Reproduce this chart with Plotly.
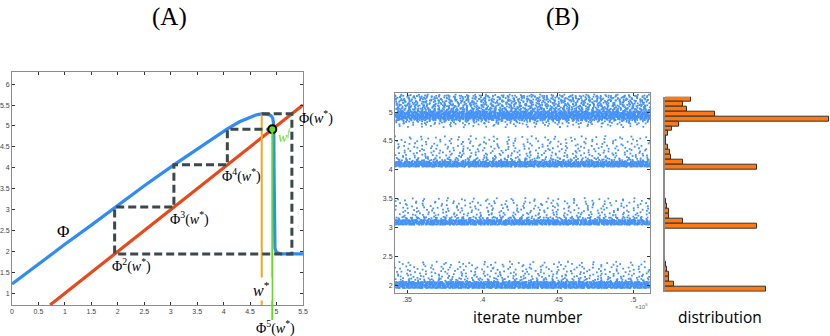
import numpy as np
import plotly.graph_objects as go

# ---------- (A) 映射 Φ 與 cobweb ----------
PHI_X = [0, 0.5, 1.0, 1.5, 1.95, 2.5, 3.06, 3.55, 4.07, 4.3, 4.5, 4.62, 4.72, 4.8, 4.86,
         4.9, 4.925, 4.94, 4.948, 4.952, 4.955, 4.96, 4.97, 4.99, 5.03, 5.1, 5.5]
PHI_Y = [1.22, 1.7, 2.17, 2.63, 3.06, 3.57, 4.07, 4.49, 4.93, 5.1, 5.21, 5.265, 5.29, 5.285, 5.27,
         5.24, 5.19, 5.1, 4.9, 4.0, 3.0, 2.3, 2.08, 2.0, 1.96, 1.94, 1.94]

DIAG_X = [0.72, 5.5]
DIAG_Y = [0.72, 5.5]

COBWEB_X = [4.72, 5.29, 5.29, 1.94, 1.94, 3.06, 3.06, 4.07, 4.07, 4.92]
COBWEB_Y = [5.29, 5.29, 1.94, 1.94, 3.06, 3.06, 4.07, 4.07, 4.92, 4.92]

W_STAR = 4.72
W_STAR_TOP = 5.29
W_FIX = 4.92

# ---------- (B) 迭代值 (每列 y 值、點距、起始偏移) ----------
X_START, X_END = 34200, 51100
ROW_Y = [5.29, 5.27, 5.25, 5.23, 5.21, 5.19, 5.17, 5.15, 5.13, 5.11, 5.09, 5.07, 5.05, 5.03,
         5.01, 4.99, 4.97, 4.95, 4.93, 4.91, 4.89, 4.87,
         4.85, 4.82, 4.79, 4.75,
         4.57, 4.53, 4.49, 4.45, 4.41, 4.37, 4.33, 4.29, 4.25, 4.21, 4.18, 4.16,
         4.14, 4.12, 4.10, 4.08, 4.06,
         3.50, 3.46, 3.42, 3.38, 3.34, 3.30, 3.26, 3.22, 3.18, 3.16,
         3.13, 3.11, 3.09, 3.07, 3.055,
         2.40, 2.36, 2.32, 2.28, 2.24, 2.20, 2.16, 2.12, 2.09,
         2.06, 2.04, 2.02, 2.00, 1.98, 1.96]
ROW_STEP = [330, 210, 390, 230, 310, 180, 350, 240, 290, 170, 330, 200, 150, 190,
            120, 90, 80, 70, 70, 70, 90, 130,
            220, 360, 480, 700,
            820, 640, 730, 590, 560, 510, 490, 440, 410, 350, 300, 220,
            110, 75, 70, 70, 90,
            820, 660, 590, 570, 510, 490, 430, 390, 300, 200,
            110, 75, 70, 80, 120,
            810, 660, 590, 550, 490, 460, 390, 330, 250,
            110, 80, 70, 70, 70, 90]
ROW_PHASE = [0, 100, 50, 150, 20, 190, 80, 10, 130, 60, 170, 40, 110, 70,
             30, 0, 40, 20, 55, 10, 35, 60,
             0, 90, 200, 300,
             100, 400, 0, 250, 120, 330, 60, 210, 30, 180, 90, 20,
             40, 0, 30, 10, 50,
             300, 0, 200, 90, 400, 150, 30, 260, 100, 20,
             0, 30, 10, 45, 70,
             200, 500, 100, 300, 0, 220, 60, 160, 40,
             20, 0, 35, 10, 50, 25]
# 不規則的小位移 (iterate 與 y)，讓點看起來不像整齊格點
X_SHIFT = [0, 93, -118, 41, 137, -64, 12, -141, 88, -27, 121, -99, 57, -9, 146, -76, 33]
Y_SHIFT = [0, 0.011, -0.008, 0.004, -0.012, 0.009, -0.003, 0.013, -0.010, 0.006, -0.005]

# ---------- (B) 分布直方圖 ----------
HIST_CENTER = [5.227, 5.140, 5.054, 4.968, 4.882, 4.798, 4.717, 4.636, 4.556, 4.475,
               4.391, 4.305, 4.218, 4.132, 4.045,
               3.469, 3.383, 3.296, 3.210, 3.123, 3.037,
               2.372, 2.286, 2.199, 2.113, 2.026, 1.940]
HIST_COUNT = [257, 177, 217, 500, 1643, 143, 73, 33, 13, 13, 33, 53, 63, 177, 917,
              5, 23, 43, 43, 177, 917,
              5, 23, 43, 43, 90, 1010]
BIN_WIDTH = 0.085

BLUE = "#2F8BF5"
RED = "#E8481A"
DASH_GRAY = "#3C4849"
ORANGE_LINE = "#F2A922"
GREEN = "#5CE01C"
FRAME = "#8C8C8C"
TICK_FONT = dict(family="Liberation Sans, Arial", size=7, color="#444")
SERIF = "Liberation Serif, Times New Roman, serif"

W, H = 830, 336


def px_x(p):
    return p / W


def px_y(p):
    return 1 - p / H


fig = go.Figure()

# (A)
fig.add_trace(go.Scatter(x=PHI_X, y=PHI_Y, mode="lines", line=dict(color=BLUE, width=3.2),
                         xaxis="x", yaxis="y", hoverinfo="skip"))
fig.add_trace(go.Scatter(x=DIAG_X, y=DIAG_Y, mode="lines", line=dict(color=RED, width=3.2),
                         xaxis="x", yaxis="y", hoverinfo="skip"))
fig.add_trace(go.Scatter(x=[W_STAR, W_STAR], y=[0.72, W_STAR_TOP], mode="lines",
                         line=dict(color=ORANGE_LINE, width=2), xaxis="x", yaxis="y"))
fig.add_trace(go.Scatter(x=COBWEB_X, y=COBWEB_Y, mode="lines",
                         line=dict(color=DASH_GRAY, width=3, dash="8px,4px"),
                         xaxis="x", yaxis="y"))
fig.add_trace(go.Scatter(x=[W_FIX], y=[W_FIX], mode="markers",
                         marker=dict(color=GREEN, size=8, line=dict(color="black", width=2)),
                         xaxis="x", yaxis="y"))

# (B) 迭代散點
sx, sy = [], []
for i, (y, step, phase) in enumerate(zip(ROW_Y, ROW_STEP, ROW_PHASE)):
    xs = np.arange(X_START + phase, X_END, step)
    for k, x in enumerate(xs):
        sx.append(x + X_SHIFT[(k + 5 * i) % len(X_SHIFT)])
        sy.append(y + Y_SHIFT[(k + 3 * i) % len(Y_SHIFT)] * (0.3 if step < 130 else 1.0))
fig.add_trace(go.Scatter(x=sx, y=sy, mode="markers",
                         marker=dict(color="#4592F7", size=1.8, symbol="square", line=dict(width=0)),
                         xaxis="x2", yaxis="y2", hoverinfo="skip"))

# (B) 分布
fig.add_trace(go.Bar(x=HIST_COUNT, y=HIST_CENTER, orientation="h", width=BIN_WIDTH,
                     marker=dict(color="#FF7A14", line=dict(color="#333", width=1)),
                     xaxis="x3", yaxis="y3"))

frame = dict(showline=True, mirror="ticks", linecolor=FRAME, linewidth=1, ticks="inside",
             ticklen=3, tickcolor="#333", showgrid=False, zeroline=False, tickfont=TICK_FONT,
             automargin=False, tickangle=0)

fig.update_layout(
    width=W, height=H, autosize=False, showlegend=False,
    margin=dict(l=0, r=0, t=0, b=0, autoexpand=False),
    plot_bgcolor="white", paper_bgcolor="white",
    xaxis=dict(frame, domain=[px_x(12), px_x(303)], range=[0, 5.5], dtick=0.5, anchor="y"),
    yaxis=dict(frame, domain=[px_y(305), px_y(72)], range=[0.72, 6.29], dtick=0.5, anchor="x"),
    xaxis2=dict(frame, domain=[px_x(395), px_x(650)], range=[34200, 51100],
                tickvals=[35000, 40000, 45000, 50000], ticktext=[".35", ".4", ".45", ".5"],
                anchor="y2"),
    yaxis2=dict(frame, domain=[px_y(293), px_y(93)], range=[1.87, 5.33], dtick=0.5, anchor="x2"),
    xaxis3=dict(domain=[px_x(665), 1.0], range=[0, 1650], visible=False, anchor="y3",
                automargin=False),
    yaxis3=dict(domain=[px_y(291.7), px_y(96.7)], range=[1.896, 5.27], showline=True,
                linecolor=FRAME, linewidth=1.5, showticklabels=False, ticks="",
                showgrid=False, zeroline=False, anchor="x3", automargin=False),
    bargap=0,
)

fig.add_shape(type="line", xref="x", yref="paper", x0=W_FIX, x1=W_FIX,
              y0=px_y(320), y1=px_y(305) + (W_FIX - 0.72) / (6.29 - 0.72) * (px_y(72) - px_y(305)),
              line=dict(color=GREEN, width=2))

lab = dict(showarrow=False, xanchor="center", yanchor="middle",
           font=dict(family=SERIF, size=14, color="black"))
ann = [
    dict(lab, text="(A)", xref="paper", yref="paper", x=px_x(169), y=px_y(17),
         font=dict(family=SERIF, size=25, color="black")),
    dict(lab, text="(B)", xref="paper", yref="paper", x=px_x(562), y=px_y(17),
         font=dict(family=SERIF, size=25, color="black")),
    dict(lab, text="Φ", xref="x", yref="y", x=0.96, y=2.48,
         font=dict(family=SERIF, size=17, color="black")),
    dict(lab, text="Φ(<i>w</i><sup>*</sup>)", xref="x", yref="y", x=5.39, y=5.21, xanchor="left"),
    dict(lab, text="<i>w<sup>f</sup></i>", xref="x", yref="y", x=4.99, y=4.76, xanchor="left",
         font=dict(family=SERIF, size=14, color=GREEN)),
    dict(lab, text="Φ<sup>4</sup>(<i>w</i><sup>*</sup>)", xref="x", yref="y", x=3.93, y=3.81,
         xanchor="left"),
    dict(lab, text="Φ<sup>3</sup>(<i>w</i><sup>*</sup>)", xref="x", yref="y", x=2.95, y=2.79,
         xanchor="left"),
    dict(lab, text="Φ<sup>2</sup>(<i>w</i><sup>*</sup>)", xref="x", yref="y", x=1.85, y=1.67,
         xanchor="left"),
    dict(lab, text="<i>w</i><sup>*</sup>", xref="x", yref="y", x=W_STAR, y=1.11,
         bgcolor="white", font=dict(family=SERIF, size=16, color="black")),
    dict(lab, text="Φ<sup>5</sup>(<i>w</i><sup>*</sup>)", xref="x", yref="paper", x=4.98,
         y=px_y(327.5)),
    dict(lab, text="×10<sup>5</sup>", xref="paper", yref="paper", x=px_x(641), y=px_y(306),
         font=dict(family="Liberation Sans, Arial", size=6, color="#666")),
    dict(lab, text="iterate number", xref="paper", yref="paper", x=px_x(527.5), y=px_y(316.7),
         font=dict(family="Open Sans, sans-serif", size=15.5, color="black")),
    dict(lab, text="distribution", xref="paper", yref="paper", x=px_x(720), y=px_y(316.7),
         font=dict(family="Open Sans, sans-serif", size=15.5, color="black")),
]
fig.update_layout(annotations=ann)

# 去掉頁面 body 預設的 8px 邊距，讓 830x336 的圖剛好填滿視窗；工具列不顯示
fig.write_html("out.html", config={"displayModeBar": False},
               post_script="document.body.style.margin='0';")
